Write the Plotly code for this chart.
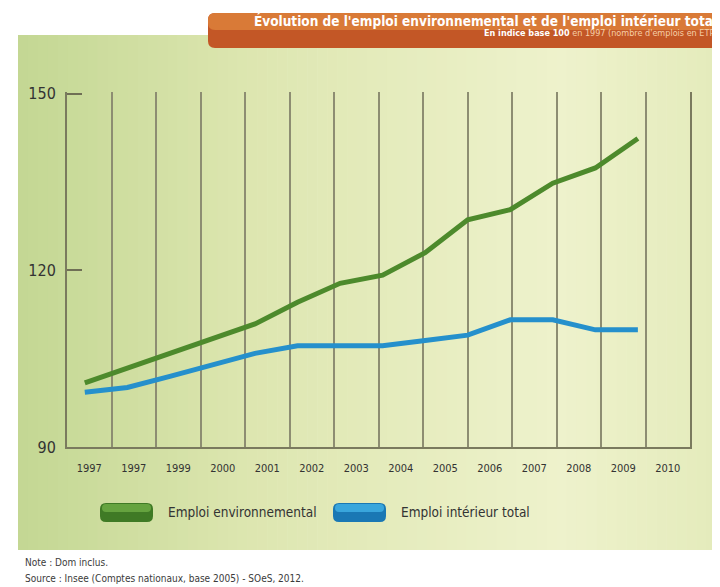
import plotly.graph_objects as go

# ---------------- data ----------------
tick_labels = ["1997", "1997", "1999", "2000", "2001", "2002", "2003",
               "2004", "2005", "2006", "2007", "2008", "2009", "2010"]
data_years = [1997, 1998, 1999, 2000, 2001, 2002, 2003,
              2004, 2005, 2006, 2007, 2008, 2009, 2010]
emploi_env = [100.9, 103.4, 105.9, 108.4, 110.9, 114.6, 117.8,
              119.2, 123.0, 128.6, 130.3, 134.8, 137.4, 142.4]
emploi_tot = [99.3, 100.1, 102.0, 104.0, 105.9, 107.2, 107.2,
              107.2, 108.1, 109.0, 111.6, 111.6, 109.9, 109.9]
y_ticks = [90, 120, 150]

title_txt = "Évolution de l'emploi environnemental et de l'emploi intérieur total"
subtitle_txt = ("<b>En indice base 100</b> <span style='color:#f6cfa8'>en 1997 "
                "(nombre d'emplois en ETP)</span>")
legend_names = ["Emploi environnemental", "Emploi intérieur total"]
note_txt = "Note : Dom inclus."
source_txt = "Source : Insee (Comptes nationaux, base 2005) - SOeS, 2012."

GREEN = "#4d8a2c"
BLUE = "#2590cc"
GRID = "#8d8d72"
FONT = "DejaVu Sans Condensed, Liberation Sans Narrow, sans-serif"

# page offset (browser body margin) compensation
OFF = 8
W, H = 720 - OFF, 587 - OFF
RL, RR, RT, RB = 67, 690, 92, 447   # plot area in reference pixels
L, R, T, B = RL - OFF, W - (RR - OFF), RT - OFF, H - (RB - OFF)


def px(x):
    return (x - RL) / (RR - RL)


def py(y):
    return (RB - y) / (RB - RT)


def rrect(x0, y0, x1, y1, r):
    return (f"M {px(x0 + r)},{py(y0)} L {px(x1 - r)},{py(y0)} "
            f"Q {px(x1)},{py(y0)} {px(x1)},{py(y0 + r)} "
            f"L {px(x1)},{py(y1 - r)} Q {px(x1)},{py(y1)} {px(x1 - r)},{py(y1)} "
            f"L {px(x0 + r)},{py(y1)} Q {px(x0)},{py(y1)} {px(x0)},{py(y1 - r)} "
            f"L {px(x0)},{py(y0 + r)} Q {px(x0)},{py(y0)} {px(x0 + r)},{py(y0)} Z")


def lerp_col(c1, c2, t):
    a = [int(c1[i:i + 2], 16) for i in (1, 3, 5)]
    b = [int(c2[i:i + 2], 16) for i in (1, 3, 5)]
    return "#%02x%02x%02x" % tuple(int(round(a[k] + (b[k] - a[k]) * t)) for k in range(3))


shapes = []
# panel background gradient (horizontal strips)
stops = [(18, "#c3d793"), (250, "#dde6b0"), (560, "#eef2cc"), (716, "#e4ebbb")]
n = 70
x_start, x_end = 18, 716
for i in range(n):
    xa = x_start + (x_end - x_start) * i / n
    xb = x_start + (x_end - x_start) * (i + 1) / n + 0.6
    xm = (xa + xb) / 2
    col = stops[-1][1]
    for j in range(len(stops) - 1):
        if stops[j][0] <= xm <= stops[j + 1][0]:
            t = (xm - stops[j][0]) / (stops[j + 1][0] - stops[j][0])
            col = lerp_col(stops[j][1], stops[j + 1][1], t)
            break
    shapes.append(dict(type="rect", xref="paper", yref="paper", layer="below",
                       x0=px(xa), x1=px(min(xb, x_end)), y0=py(550), y1=py(35),
                       fillcolor=col, line=dict(width=0)))

# title banner
shapes.append(dict(type="path", xref="paper", yref="paper", layer="above",
                   path=rrect(208, 13, 740, 48, 7),
                   fillcolor="#c35726", line=dict(width=0)))
shapes.append(dict(type="path", xref="paper", yref="paper", layer="above",
                   path=rrect(208, 13, 740, 30, 7),
                   fillcolor="#d97a37", line=dict(width=0)))

# legend pills
for (xa, dark, light) in [(100, "#3f7a25", "#65a33f"), (333, "#1a78b4", "#39a6dc")]:
    shapes.append(dict(type="path", xref="paper", yref="paper", layer="above",
                       path=rrect(xa, 503, xa + 53, 522, 6),
                       fillcolor=dark, line=dict(width=0)))
    shapes.append(dict(type="path", xref="paper", yref="paper", layer="above",
                       path=rrect(xa + 2, 504, xa + 51, 512, 4),
                       fillcolor=light, line=dict(width=0)))

fig = go.Figure()
# empty traces so that the grid axis and label axis subplots are drawn
fig.add_trace(go.Scatter(x=[], y=[], xaxis="x", yaxis="y", showlegend=False, hoverinfo="skip"))
fig.add_trace(go.Scatter(x=[], y=[], xaxis="x3", yaxis="y", showlegend=False, hoverinfo="skip"))
fig.add_trace(go.Scatter(x=data_years, y=emploi_env, mode="lines", xaxis="x2",
                         name=legend_names[0], line=dict(color=GREEN, width=5),
                         showlegend=False))
fig.add_trace(go.Scatter(x=data_years, y=emploi_tot, mode="lines", xaxis="x2",
                         name=legend_names[1], line=dict(color=BLUE, width=5),
                         showlegend=False))

annotations = [
    dict(text="<b>" + title_txt + "</b>", x=px(719), y=py(21), xref="paper", yref="paper",
         xanchor="right", yanchor="middle", showarrow=False,
         font=dict(family=FONT, size=13.5, color="#ffffff")),
    dict(text=subtitle_txt, x=px(719), y=py(33), xref="paper", yref="paper",
         xanchor="right", yanchor="middle", showarrow=False,
         font=dict(family=FONT, size=9, color="#ffffff")),
    dict(text=legend_names[0], x=px(166), y=py(512), xref="paper", yref="paper",
         xanchor="left", yanchor="middle", showarrow=False,
         font=dict(family=FONT, size=13.5, color="#333333")),
    dict(text=legend_names[1], x=px(399), y=py(512), xref="paper", yref="paper",
         xanchor="left", yanchor="middle", showarrow=False,
         font=dict(family=FONT, size=13.5, color="#333333")),
    dict(text=note_txt, x=px(23), y=py(562), xref="paper", yref="paper",
         xanchor="left", yanchor="middle", showarrow=False,
         font=dict(family=FONT, size=10, color="#3a3a3a")),
    dict(text=source_txt, x=px(23), y=py(578), xref="paper", yref="paper",
         xanchor="left", yanchor="middle", showarrow=False,
         font=dict(family=FONT, size=10, color="#3a3a3a")),
]

n_cols = len(tick_labels)
x_rng = [0, n_cols]
fig.update_layout(
    width=W, height=H,
    margin=dict(l=L, r=R, t=T, b=B, pad=0),
    paper_bgcolor="#ffffff",
    plot_bgcolor="rgba(0,0,0,0)",
    shapes=shapes,
    annotations=annotations,
    xaxis=dict(  # grid axis: column separators
        range=x_rng,
        tickmode="array",
        tickvals=list(range(n_cols + 1)),
        ticktext=[""] * (n_cols + 1),
        showgrid=True, gridcolor=GRID, gridwidth=1.5,
        zeroline=False, ticks="",
        showline=True, linecolor="#7a7a5e", linewidth=2,
        fixedrange=True,
    ),
    xaxis3=dict(  # label axis: year labels centred in columns
        overlaying="x", anchor="y", side="bottom",
        range=x_rng,
        tickmode="array",
        tickvals=[i + 0.5 for i in range(n_cols)],
        ticktext=tick_labels,
        showgrid=False, zeroline=False, showline=False, ticks="",
        tickfont=dict(family=FONT, size=11, color="#333333"),
        ticklabelstandoff=13,
        fixedrange=True,
    ),
    xaxis2=dict(  # data axis
        overlaying="x", anchor="y", range=[1996.5816, 2011.225], visible=False,
        showgrid=False, zeroline=False,
    ),
    yaxis=dict(
        range=[90, 150.3],
        tickmode="array", tickvals=y_ticks,
        showgrid=False, zeroline=False,
        ticks="inside", ticklen=15, tickwidth=2, tickcolor="#6f6f55",
        showline=True, mirror=True, linecolor="#7a7a5e", linewidth=2,
        tickfont=dict(family=FONT, size=16, color="#333333"),
        ticklabelstandoff=6,
    ),
)

fig.write_html("out.html")
